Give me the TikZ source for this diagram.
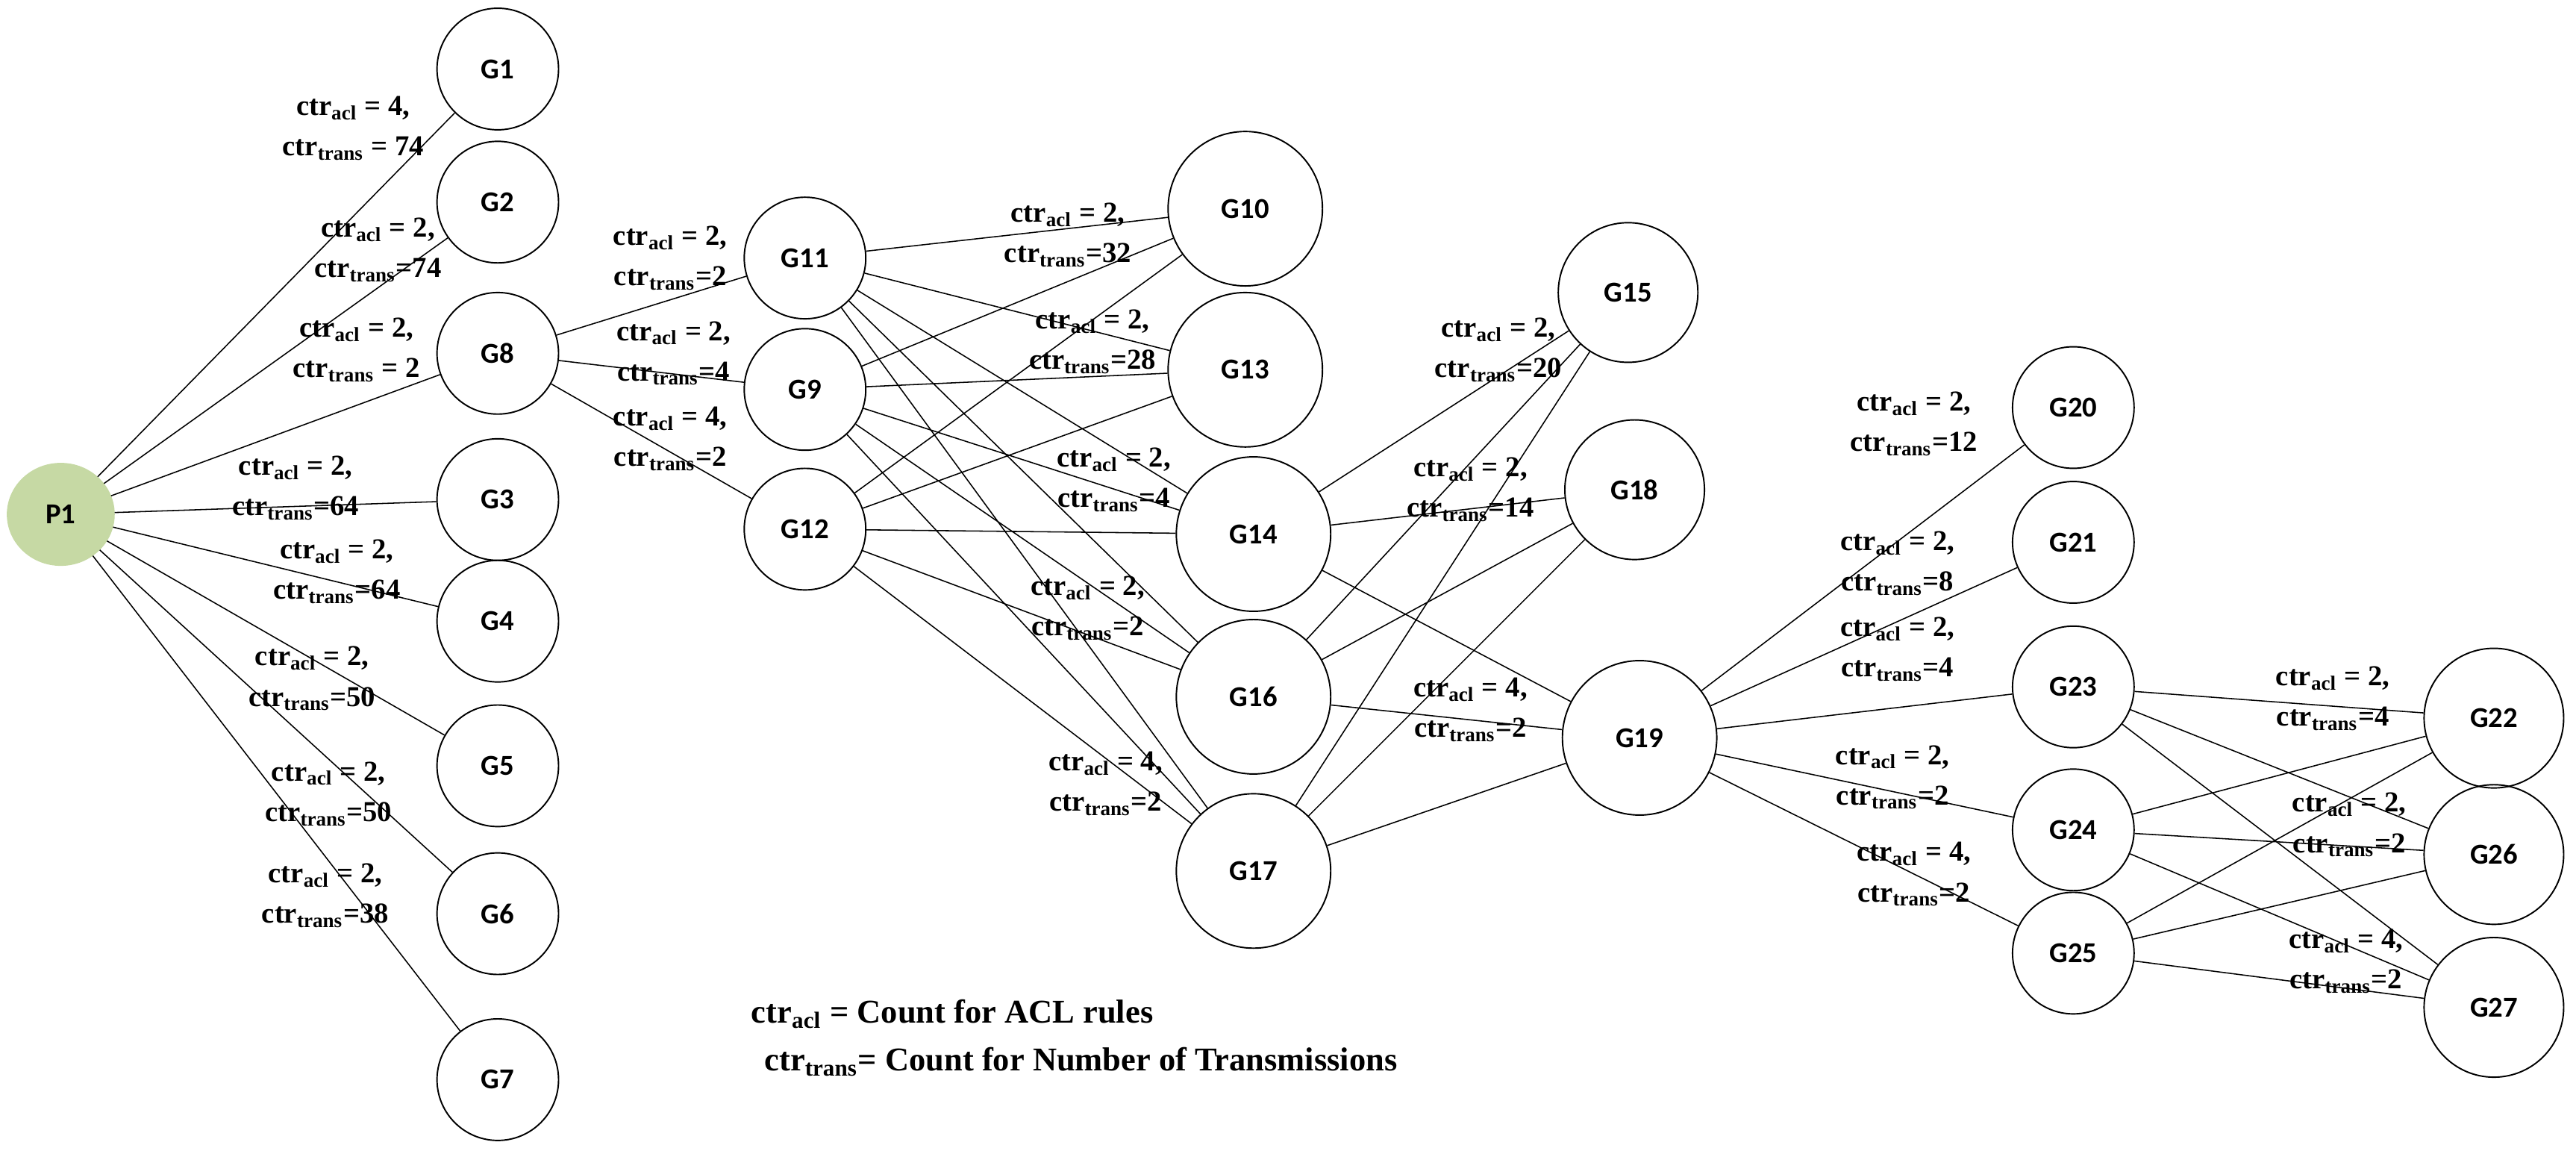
\documentclass[tikz,border=0pt]{standalone}
\usepackage{fontspec}
\usetikzlibrary{shapes.geometric}
\setmainfont{Liberation Serif}
\newfontfamily\nodefont{Carlito}
\definecolor{pgreen}{HTML}{C6D9A4}
\newcommand\cl[4]{\node[lab] at (#1,-#2) {ctr\textsubscript{acl} = #3,\\ctr\textsubscript{trans}#4};}
\begin{document}
\begin{tikzpicture}[x=0.02cm,y=0.02cm,
  g/.style={circle,draw,line width=0.5pt,font=\nodefont\bfseries\fontsize{10}{12}\selectfont,inner sep=0pt},
  s/.style={g,minimum size=1.48cm},
  m/.style={g,minimum size=1.7cm},
  b/.style={g,minimum size=1.88cm},
  lab/.style={align=center,font=\bfseries\fontsize{10}{14}\selectfont,inner sep=0pt},
  e/.style={line width=0.4pt}]
\useasboundingbox (0,0) rectangle (1568,-700);
\node[ellipse,fill=pgreen,draw=pgreen,inner sep=0pt,font=\nodefont\bfseries\fontsize{10}{12}\selectfont,minimum width=1.3cm,minimum height=1.24cm] (P1) at (37,-313) {P1};
\foreach \n/\y in {G1/42,G2/123,G8/215,G3/304,G4/378,G5/466,G6/556,G7/657}
  \node[s] (\n) at (303,-\y) {\n};
\foreach \n/\y in {G11/157,G9/237,G12/322} \node[s] (\n) at (490,-\y) {\n};
\node[b] (G10) at (758,-127) {G10};
\node[b] (G13) at (758,-225) {G13};
\foreach \n/\y in {G14/325,G16/424,G17/530} \node[b] (\n) at (763,-\y) {\n};
\node[m] (G15) at (991,-178) {G15};
\node[m] (G18) at (995,-298) {G18};
\node[b] (G19) at (998,-449) {G19};
\foreach \n/\y in {G20/248,G21/330,G23/418,G24/505,G25/580} \node[s] (\n) at (1262,-\y) {\n};
\foreach \n/\y in {G22/437,G26/520,G27/613} \node[m] (\n) at (1518,-\y) {\n};
% edges
\foreach \t in {G1,G2,G8,G3,G4,G5,G6,G7} \draw[e] (P1) -- (\t);
\foreach \t in {G11,G9,G12} \draw[e] (G8) -- (\t);
\foreach \s in {G11,G9,G12} \foreach \t in {G10,G13,G14,G16,G17} \draw[e] (\s) -- (\t);
\foreach \s in {G14,G16,G17} \foreach \t in {G15,G18,G19} \draw[e] (\s) -- (\t);
\foreach \t in {G20,G21,G23,G24,G25} \draw[e] (G19) -- (\t);
\foreach \s in {G23,G24,G25} \foreach \t in {G22,G26,G27} \draw[e] (\s) -- (\t);
% labels
\cl{215}{78}{4}{ = 74}
\cl{230}{152}{2}{=74}
\cl{217}{213}{2}{ = 2}
\cl{180}{297}{2}{=64}
\cl{205}{348}{2}{=64}
\cl{190}{413}{2}{=50}
\cl{200}{483}{2}{=50}
\cl{198}{545}{2}{=38}
\cl{408}{157}{2}{=2}
\cl{410}{215}{2}{=4}
\cl{408}{267}{4}{=2}
\cl{650}{143}{2}{=32}
\cl{665}{208}{2}{=28}
\cl{678}{292}{2}{=4}
\cl{662}{370}{2}{=2}
\cl{673}{477}{4}{=2}
\cl{912}{213}{2}{=20}
\cl{895}{298}{2}{=14}
\cl{895}{432}{4}{=2}
\cl{1165}{258}{2}{=12}
\cl{1155}{343}{2}{=8}
\cl{1155}{395}{2}{=4}
\cl{1152}{473}{2}{=2}
\cl{1165}{532}{4}{=2}
\cl{1420}{425}{2}{=4}
\cl{1430}{502}{2}{=2}
\cl{1428}{585}{4}{=2}
\node[anchor=west,inner sep=0pt,font=\bfseries\fontsize{11.5}{14}\selectfont] (L1) at (457,-617) {ctr\textsubscript{acl} = Count for ACL rules};
\node[anchor=west,inner sep=0pt,font=\bfseries\fontsize{11.5}{14}\selectfont] (L2) at (465,-646) {ctr\textsubscript{trans}= Count for Number of Transmissions};
\end{tikzpicture}
\end{document}
